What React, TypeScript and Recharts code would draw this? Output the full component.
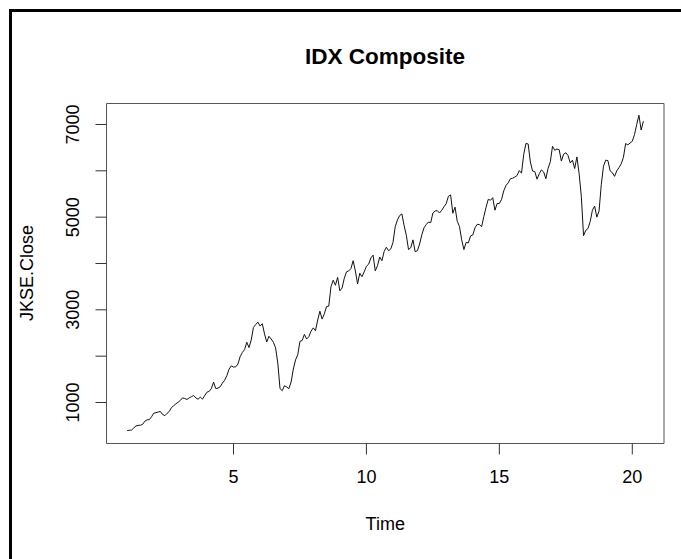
import React from "react";
import { LineChart, Line, XAxis, YAxis, ReferenceArea } from "recharts";

// Monthly closing values of the IDX Composite (JKSE), Jan 2003 .. Jun 2022
const startIndex = 1; // time index of the first observation
const monthsPerYear = 12;

const close2003 = [395, 400, 405, 450, 495, 505, 510, 530, 597, 626, 630, 691];
const close2004 = [769, 780, 795, 806, 741, 715, 765, 806, 890, 930, 972, 1005];
const close2005 = [1045, 1100, 1085, 1065, 1100, 1125, 1150, 1100, 1070, 1115, 1072, 1150];
const close2006 = [1222, 1240, 1300, 1440, 1300, 1310, 1340, 1420, 1480, 1580, 1720, 1790];
const close2007 = [1765, 1770, 1830, 1990, 2080, 2140, 2300, 2185, 2350, 2620, 2680, 2735];
const close2008 = [2650, 2700, 2480, 2305, 2430, 2370, 2300, 2180, 1850, 1300, 1255, 1360];
const close2009 = [1335, 1300, 1440, 1720, 1920, 2030, 2320, 2340, 2470, 2370, 2420, 2540];
const close2010 = [2610, 2550, 2780, 2970, 2800, 2915, 3070, 3080, 3500, 3640, 3530, 3700];
const close2011 = [3410, 3470, 3680, 3820, 3840, 3890, 4060, 3840, 3560, 3790, 3715, 3820];
const close2012 = [3940, 3985, 4120, 4180, 3840, 3955, 4140, 4060, 4260, 4350, 4275, 4315];
const close2013 = [4455, 4795, 4940, 5035, 5070, 4820, 4610, 4300, 4340, 4510, 4255, 4275];
const close2014 = [4420, 4620, 4770, 4840, 4895, 4880, 5090, 5135, 5140, 5090, 5150, 5225];
const close2015 = [5290, 5450, 5480, 5085, 5215, 4910, 4800, 4510, 4300, 4455, 4445, 4595];
const close2016 = [4615, 4770, 4845, 4840, 4795, 5015, 5215, 5385, 5365, 5420, 5150, 5295];
const close2017 = [5295, 5385, 5570, 5685, 5740, 5830, 5840, 5865, 5900, 6005, 5950, 6355];
const close2018 = [6590, 6580, 6190, 5995, 5985, 5820, 5935, 6020, 5975, 5830, 6055, 6195];
const close2019 = [6530, 6445, 6470, 6455, 6210, 6360, 6390, 6330, 6170, 6230, 6050, 6300];
const close2020 = [5940, 5450, 4600, 4715, 4755, 4905, 5150, 5240, 5000, 5130, 5700, 6100];
const close2021 = [6230, 6220, 6000, 5960, 5880, 6000, 6070, 6150, 6290, 6590, 6560, 6600];
const close2022 = [6640, 6780, 7000, 7200, 6880, 7070];

const closeValues = [
  ...close2003, ...close2004, ...close2005, ...close2006, ...close2007,
  ...close2008, ...close2009, ...close2010, ...close2011, ...close2012,
  ...close2013, ...close2014, ...close2015, ...close2016, ...close2017,
  ...close2018, ...close2019, ...close2020, ...close2021, ...close2022,
];

const xTicks = [5, 10, 15, 20];
const yTicks = [1000, 2000, 3000, 4000, 5000, 6000, 7000];
const yTickLabels = [1000, 3000, 5000, 7000];

const titleText = "IDX Composite";
const xLabelText = "Time";
const yLabelText = "JKSE.Close";

const data = closeValues.map((v, i) => ({ t: startIndex + i / monthsPerYear, close: v }));

const xDomain: [number, number] = [0.223, 21.193];
const yDomain: [number, number] = [115, 7453];

const FONT = '"Liberation Sans", Arial, Helvetica, sans-serif';
const W = 673;
const H = 551;

const XTick = (props: any) => {
  const { x, payload } = props;
  return (
    <text x={x} y={474.5} textAnchor="middle" fontFamily={FONT} fontSize={18} fill="#000">
      {payload.value}
    </text>
  );
};

const YTick = (props: any) => {
  const { y, payload } = props;
  if (!yTickLabels.includes(payload.value)) return <g />;
  const bx = 71.5;
  return (
    <text x={bx} y={y} transform={`rotate(-90 ${bx} ${y})`} textAnchor="middle" fontFamily={FONT} fontSize={18} fill="#000">
      {payload.value}
    </text>
  );
};

export default function App() {
  return (
    <div style={{ position: "fixed", left: 0, top: 0, width: 681, height: 559, overflow: "hidden", background: "#fff" }}>
      <svg width={681} height={559} style={{ position: "absolute", left: 0, top: 0 }}>
        <path d="M10.5 559 L10.5 10.5 L681 10.5" fill="none" stroke="#000" strokeWidth={3} />
      </svg>
      <div style={{ position: "absolute", left: 8, top: 8 }}>
        <LineChart width={W} height={H} data={data} margin={{ top: 95.5, right: 17, left: 0, bottom: 0 }}>
          <XAxis dataKey="t" type="number" domain={xDomain} ticks={xTicks} allowDataOverflow axisLine={false}
            tickLine={{ stroke: "#333", strokeWidth: 1 }} tickSize={11} tick={<XTick />} height={115.5} interval={0} />
          <YAxis type="number" domain={yDomain} ticks={yTicks} allowDataOverflow axisLine={false}
            tickLine={{ stroke: "#333", strokeWidth: 1 }} tickSize={11} tick={<YTick />} width={98.5} interval={0} />
          <ReferenceArea x1={xDomain[0]} x2={xDomain[1]} y1={yDomain[0]} y2={yDomain[1]} fill="none" fillOpacity={0}
            stroke="#555" strokeWidth={1} ifOverflow="visible" />
          <Line type="linear" dataKey="close" stroke="#111" strokeWidth={1} dot={false} isAnimationActive={false} />
        </LineChart>
        <svg width={W} height={H} style={{ position: "absolute", left: 0, top: 0, pointerEvents: "none" }}>
          <text x={377} y={56} textAnchor="middle" fontFamily={FONT} fontSize={22.5} fontWeight="bold" fill="#000">
            {titleText}
          </text>
          <text x={377.25} y={521.5} textAnchor="middle" fontFamily={FONT} fontSize={18} fill="#000">
            {xLabelText}
          </text>
          <text x={24.5} y={265} transform="rotate(-90 24.5 265)" textAnchor="middle" fontFamily={FONT} fontSize={18} fill="#000">
            {yLabelText}
          </text>
        </svg>
      </div>
    </div>
  );
}
